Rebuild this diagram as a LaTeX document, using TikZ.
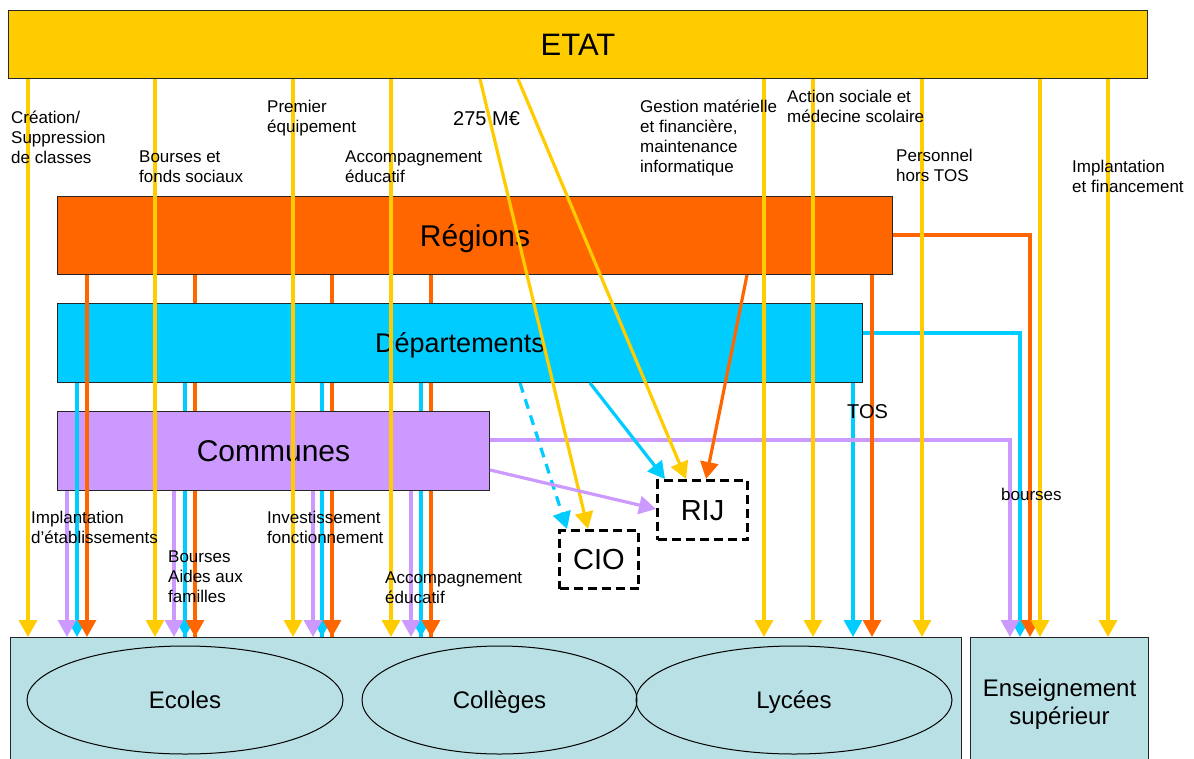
\documentclass[tikz,border=0pt]{standalone}
\usepackage{fontspec}
\setmainfont{Liberation Sans}
\usetikzlibrary{arrows.meta,shapes.geometric}
\definecolor{cY}{RGB}{255,204,0}
\definecolor{cO}{RGB}{255,102,0}
\definecolor{cC}{RGB}{0,204,255}
\definecolor{cP}{RGB}{204,153,255}
\definecolor{cB}{RGB}{185,224,228}
\begin{document}
\begin{tikzpicture}[x=1pt,y=-1pt,
  panel/.style={draw=black!85, line width=1pt, inner sep=0pt, anchor=north west},
  biglab/.style={font=\fontsize{30}{36}\selectfont, text height=21.5pt, text depth=0pt},
  midlab/.style={font=\fontsize{24}{28}\selectfont, text height=17.2pt, text depth=0pt},
  arr/.style={line width=3.2pt, -{Triangle[length=17pt,width=18pt]}},
  ya/.style={arr, color=cY}, oa/.style={arr, color=cO},
  ca/.style={arr, color=cC}, pa/.style={arr, color=cP},
  oline/.style={line width=3.2pt, color=cO}, cline/.style={line width=3.2pt, color=cC},
  lab/.style={font=\fontsize{17}{20}\selectfont, align=left, anchor=base west, inner sep=0pt},
  dbox/.style={draw=black, line width=3pt, dash pattern=on 9pt off 5pt, inner sep=0pt,
    anchor=north west, fill=white, font=\fontsize{29}{34}\selectfont, text height=20.8pt, text depth=0pt},
  ell/.style={draw=black, line width=1pt, ellipse, inner sep=0pt, minimum height=108pt, midlab},
]
\useasboundingbox (0,0) rectangle (1194,758);
\fill[white] (0,0) rectangle (1194,758);

% panels (with lines that pass behind them)
\node[panel, fill=cY, minimum width=1139pt, minimum height=68pt, font=\fontsize{31}{36}\selectfont, text height=22.2pt, text depth=0pt] (etat) at (8,10) {ETAT};
\node[panel, fill=cO, minimum width=835pt, minimum height=78pt, biglab] (reg) at (57,196) {Régions};
\node[panel, fill=cB, minimum width=951pt, minimum height=130pt] (base) at (10,637) {};
\foreach \x in {195,332,431}
  \draw[oline] (reg.south -| \x,0) -- (base.north -| \x,0);
\node[panel, fill=cC, minimum width=805pt, minimum height=79pt, font=\fontsize{27}{32}\selectfont, text height=19.4pt, text depth=0pt] (dep) at (57,303) {Départements};
\foreach \x in {185,322,421}
  \draw[cline] (dep.south -| \x,0) -- (base.north -| \x,0);
\node[panel, fill=cP, minimum width=432pt, minimum height=79pt, biglab] (com) at (57,411) {Communes};
\node[panel, fill=cB, minimum width=178pt, minimum height=134pt, font=\fontsize{24}{28}\selectfont, align=center] (sup) at (970,637) {Enseignement\\supérieur};

\node[ell, minimum width=316pt] (ecoles) at (185,700) {Ecoles};
\node[ell, minimum width=275pt] (colleges) at (499.5,700) {Collèges};
\node[ell, minimum width=316pt] (lycees) at (794,700) {Lycées};

\node[dbox, minimum width=79pt, minimum height=58pt] (cio) at (558,529) {CIO};
\node[dbox, minimum width=90pt, minimum height=59pt] (rij) at (656,479) {RIJ};

% cyan
\draw[ca] (dep.south -| 77,0) -- (base.north -| 77,0);
\foreach \x in {185,322,421}
  \draw[ca] (com.south -| \x,0) -- (base.north -| \x,0);
\draw[ca] (dep.south -| 853,0) -- (base.north -| 853,0);
\draw[ca] (dep.east |- 0,333) -| (sup.north -| 1020,0);
% purple
\foreach \x in {67,174,313,411}
  \draw[pa] (com.south -| \x,0) -- (base.north -| \x,0);
\draw[pa] (com.east |- 0,440) -| (sup.north -| 1010,0);
% orange
\draw[oa] (reg.south -| 87,0) -- (base.north -| 87,0);
\foreach \x in {195,332,431}
  \draw[oa] (com.south -| \x,0) -- (base.north -| \x,0);
\draw[oa] (reg.south -| 872,0) -- (base.north -| 872,0);
\draw[oa] (reg.east |- 0,235) -| (sup.north -| 1030,0);
% yellow
\foreach \x in {28,155,293,391,764,813,922}
  \draw[ya] (etat.south -| \x,0) -- (base.north -| \x,0);
\foreach \x in {1040,1108}
  \draw[ya] (etat.south -| \x,0) -- (sup.north -| \x,0);

% diagonals
\draw[ca, dash pattern=on 10pt off 7pt] (dep.south -| 520,0) -- (cio.north -| 567,0);
\draw[ya] (etat.south -| 480,0) -- (cio.north -| 588,0);
\draw[ca] (dep.south -| 590,0) -- (rij.north -| 665,0);
\draw[ya] (etat.south -| 518,0) -- (rij.north -| 686,0);
\draw[oa] (reg.south -| 747,0) -- (rij.north -| 706,0);
\draw[pa] (com.east |- 0,470) -- (rij.west |- 0,509);

% labels (anchored at the baseline of the last line)
\node[lab] (l1) at (11,163) {Création/\\Suppression\\de classes};
\node[lab] (l2) at (139,182) {Bourses et\\fonds sociaux};
\node[lab] (l3) at (267,132) {Premier\\équipement};
\node[lab] (l4) at (345,182) {Accompagnement\\éducatif};
\node[lab, font=\fontsize{20}{24}\selectfont] (l5) at (453,125) {275 M€};
\node[lab] (l6) at (640,172) {Gestion matérielle\\et financière,\\maintenance\\informatique};
\node[lab] (l7) at (787,122) {Action sociale et\\médecine scolaire};
\node[lab] (l8) at (896,181) {Personnel\\hors TOS};
\node[lab] (l9) at (1072,192) {Implantation\\et financement};
\node[lab] (l10) at (31,543) {Implantation\\d’établissements};
\node[lab] (l11) at (168,602) {Bourses\\Aides aux\\familles};
\node[lab] (l12) at (267,543) {Investissement\\fonctionnement};
\node[lab] (l13) at (385,603) {Accompagnement\\éducatif};
\node[lab, font=\fontsize{20}{24}\selectfont] (l14) at (847,418) {TOS};
\node[lab] (l15) at (1001,500) {bourses};
\end{tikzpicture}
\end{document}
